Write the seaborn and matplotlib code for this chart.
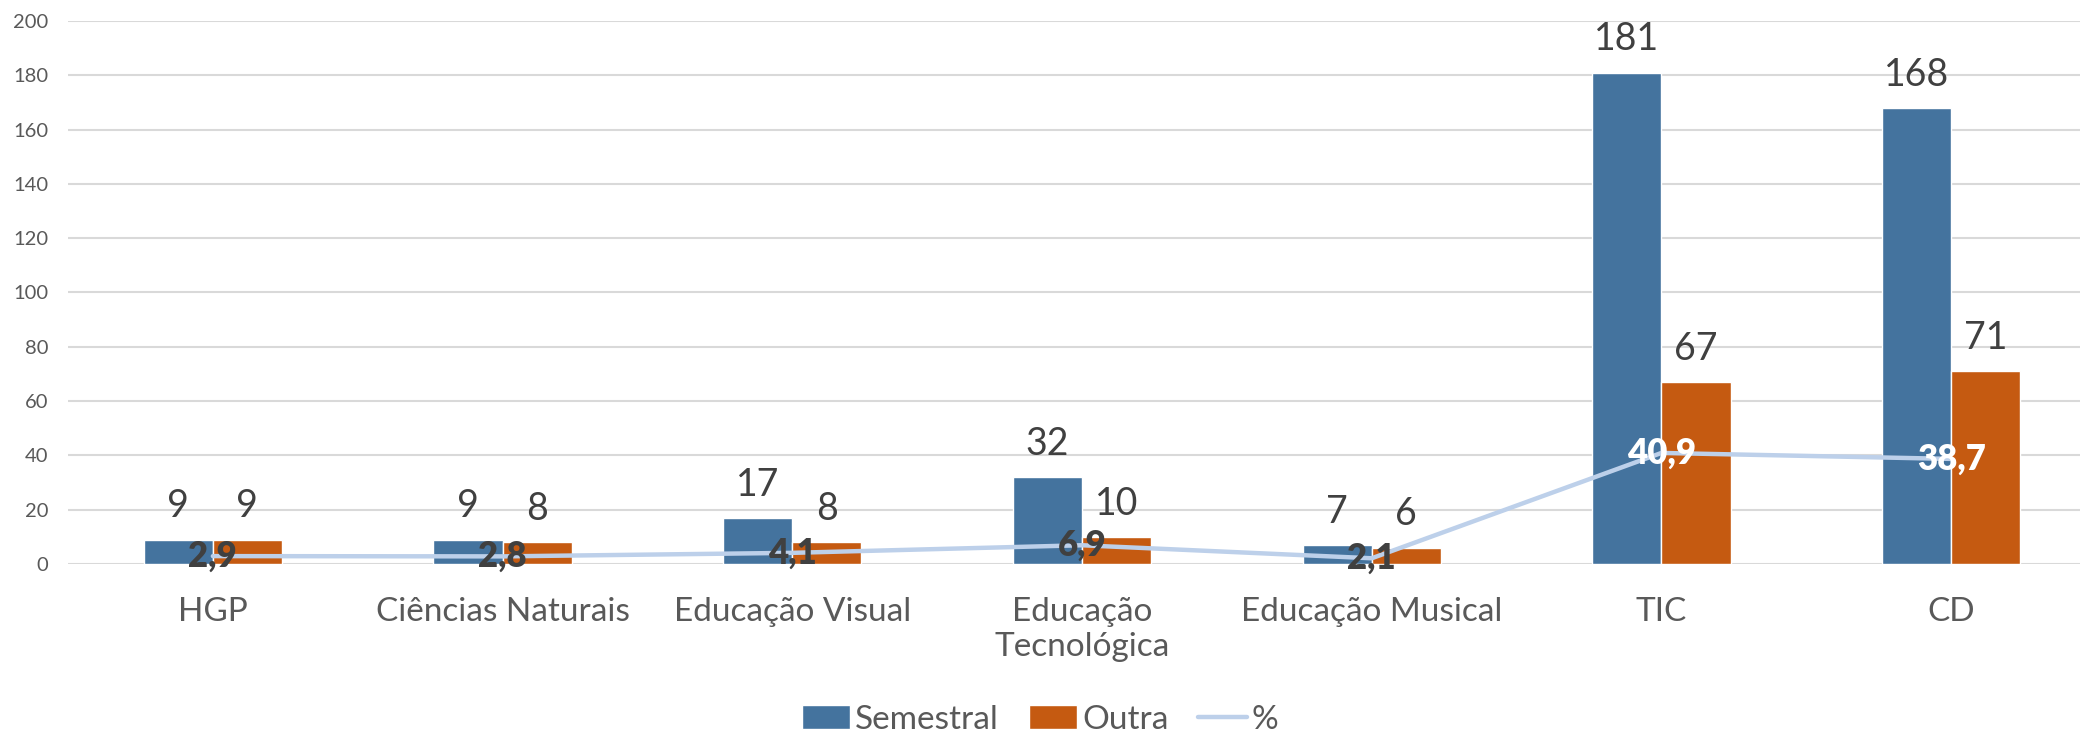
import pandas as pd
import matplotlib.pyplot as plt
import seaborn as sns
from matplotlib.lines import Line2D
from matplotlib.patches import Patch


# ==========================================
# Data
# ==========================================

disciplinas = [
    "HGP",
    "Ciências Naturais",
    "Educação Visual",
    "Educação\nTecnológica",
    "Educação Musical",
    "TIC",
    "CD",
]

semestral = [9, 9, 17, 32, 7, 181, 168]

outra = [9, 8, 8, 10, 6, 67, 71]

percentagem = [2.9, 2.8, 4.1, 6.9, 2.1, 40.9, 38.7]


df = pd.DataFrame({
    "disciplina": disciplinas,
    "Semestral": semestral,
    "Outra": outra,
})

long = df.melt(
    id_vars="disciplina",
    var_name="tipo",
    value_name="valor"
)


# ==========================================
# Style
# ==========================================

sns.set_style("white")
plt.rcParams["font.family"] = ["Lato", "DejaVu Sans"]

azul = "#44739E"
laranja = "#C55A11"
linha = "#BDD0EA"
texto = "#404040"
cinza = "#595959"


# ==========================================
# Chart
# ==========================================

fig = plt.figure(figsize=(20.8, 7.38), dpi=100)

# plot area runs slightly past the right edge, like the original
ax = fig.add_axes([0.0327, 0.2358, 0.975, 0.7358])

sns.barplot(
    data=long,
    x="disciplina",
    y="valor",
    hue="tipo",
    palette=[azul, laranja],
    width=0.477,
    saturation=1,
    legend=False,
    ax=ax,
    zorder=2
)

# value labels above the bars
for cont in ax.containers:
    for bar in cont:
        h = bar.get_height()
        ax.annotate(
            f"{h:.0f}",
            (bar.get_x() + bar.get_width() / 2, h),
            xytext=(0, 11),
            textcoords="offset points",
            ha="center",
            va="bottom",
            fontsize=27,
            color=texto
        )

# percentage line on the same axis
xs = list(range(len(disciplinas)))
ax.plot(xs, percentagem, color=linha, linewidth=3.2, zorder=3,
        solid_capstyle="round")

for x, p in zip(xs, percentagem):
    cor = "white" if p > 20 else texto
    ax.text(
        x, p, f"{p:.1f}".replace(".", ","),
        ha="center", va="center",
        fontsize=25, fontweight="heavy",
        color=cor, zorder=4
    )


# ==========================================
# Axes
# ==========================================

ax.set_ylim(0, 200)
ax.set_xlim(-0.5, len(disciplinas) - 0.5)
ax.set_yticks(range(0, 201, 20))
ax.yaxis.grid(True, color="#D9D9D9", linewidth=1.5, zorder=0)
ax.set_axisbelow(True)

for s in ax.spines.values():
    s.set_visible(False)

ax.tick_params(axis="y", labelsize=14.5, labelcolor=cinza, length=0, pad=14)
ax.tick_params(axis="x", labelsize=24, labelcolor=cinza, length=0, pad=24)

ax.set_xlabel("")
ax.set_ylabel("")


# ==========================================
# Legend
# ==========================================

handles = [
    Patch(facecolor=azul, label="Semestral"),
    Patch(facecolor=laranja, label="Outra"),
    Line2D([0], [0], color=linha, linewidth=3.2, label="%"),
]

fig.legend(
    handles=handles,
    loc="center",
    bbox_to_anchor=(0.5, 0.025),
    ncol=3,
    frameon=False,
    fontsize=24,
    labelcolor=cinza,
    handlelength=1.45,
    handleheight=0.7,
    handletextpad=0.15,
    columnspacing=0.9
)

fig.savefig("out.png", dpi=100)
